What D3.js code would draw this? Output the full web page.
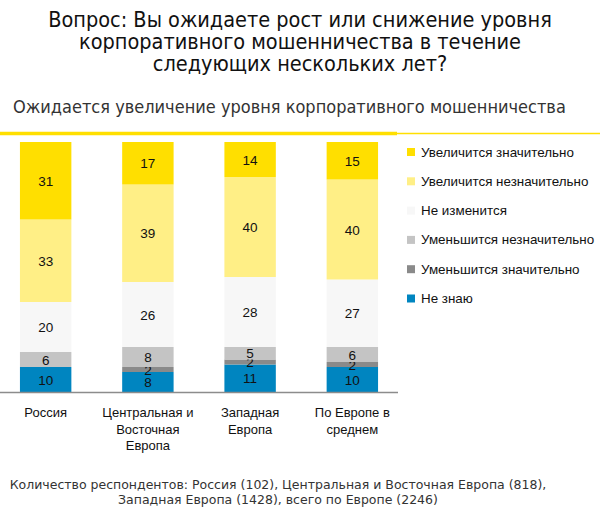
<!DOCTYPE html>
<html>
<head>
<meta charset="utf-8">
<script src="https://cdn.jsdelivr.net/npm/d3@7"></script>
<style>
body{margin:0;background:#fff;}
svg{display:block;}
</style>
</head>
<body>
<div id="chart"></div>
<script>
// categories and answers (bottom to top)
let categories=["Россия","Центральная и Восточная Европа","Западная Европа","По Европе в среднем"];
let categoryLines=[["Россия"],["Центральная и","Восточная","Европа"],["Западная","Европа"],["По Европе в","среднем"]];
let answers=["Не знаю","Уменьшится значительно","Уменьшится незначительно","Не изменится","Увеличится незначительно","Увеличится значительно"];
let dontKnow=[10,8,11,10];
let decreaseMuch=[0,2,2,2];
let decreaseLittle=[6,8,5,6];
let noChange=[20,26,28,27];
let increaseLittle=[33,39,40,40];
let increaseMuch=[31,17,14,15];
let colors=["#0085c0","#8a8a8a","#c4c4c4","#f7f7f7","#ffef86","#ffdf00"];
let legendOrder=["Увеличится значительно","Увеличится незначительно","Не изменится","Уменьшится незначительно","Уменьшится значительно","Не знаю"];

let width=600;
let height=509;

let rows=categories.map(function(c,i){
    return {cat:c,
        "Не знаю":dontKnow[i],
        "Уменьшится значительно":decreaseMuch[i],
        "Уменьшится незначительно":decreaseLittle[i],
        "Не изменится":noChange[i],
        "Увеличится незначительно":increaseLittle[i],
        "Увеличится значительно":increaseMuch[i]};
});

let chart=d3.select("#chart").append("svg")
.attr("width",width).attr("height",height);

// title
let title=["Вопрос: Вы ожидаете рост или снижение уровня","корпоративного мошенничества в течение","следующих нескольких лет?"];
chart.append("g").selectAll("text").data(title).enter().append("text")
.attr("x",300).attr("y",(d,i)=>27+i*22)
.attr("text-anchor","middle")
.attr("font-family","DejaVu Sans Condensed, Tahoma, sans-serif")
.attr("font-size",21.5).attr("fill","#111")
.text(d=>d);

chart.append("text").text("Ожидается увеличение уровня корпоративного мошенничества")
.attr("x",13).attr("y",113)
.attr("font-family","DejaVu Sans Condensed, Tahoma, sans-serif")
.attr("font-size",18).attr("fill","#333");

// yellow rule
chart.append("line").attr("x1",0).attr("x2",600).attr("y1",133.5).attr("y2",133.5)
.attr("stroke","#ffdf00").attr("stroke-width",1.5);
chart.append("line").attr("x1",0).attr("x2",397).attr("y1",133.5).attr("y2",133.5)
.attr("stroke","#ffdf00").attr("stroke-width",3.5);

let x=d3.scaleBand().domain(categories).range([-0.5,398.5]).paddingInner(0.497).paddingOuter(0.2);
let y=d3.scaleLinear().domain([0,100]).range([392,142]);
let color=d3.scaleOrdinal().domain(answers).range(colors);

let stack=d3.stack().keys(answers);
let series=stack(rows);

let layers=chart.append("g").selectAll("g").data(series).enter().append("g")
.attr("fill",d=>color(d.key));

layers.selectAll("rect").data(d=>d).enter().append("rect")
.attr("x",d=>x(d.data.cat))
.attr("width",x.bandwidth())
.attr("y",d=>y(d[1]))
.attr("height",d=>y(d[0])-y(d[1]));

layers.selectAll("text").data(d=>d.filter(v=>v[1]-v[0]>0)).enter().append("text")
.attr("x",d=>x(d.data.cat)+x.bandwidth()/2)
.attr("y",d=>(y(d[0])+y(d[1]))/2+5)
.attr("text-anchor","middle")
.attr("font-family","Liberation Sans, Arial, sans-serif")
.attr("font-size",13.5).attr("fill","#111")
.text(d=>d[1]-d[0]);

// baseline
chart.append("line").attr("x1",0).attr("x2",398).attr("y1",392.5).attr("y2",392.5)
.attr("stroke","#8c8c8c").attr("stroke-width",1.5);

// category labels
let catLabels=chart.append("g").selectAll("text").data(categories).enter().append("text")
.attr("x",d=>x(d)+x.bandwidth()/2)
.attr("y",417)
.attr("text-anchor","middle")
.attr("font-family","Liberation Sans, Arial, sans-serif")
.attr("font-size",13).attr("fill","#111");
catLabels.each(function(d,i){
    d3.select(this).selectAll("tspan").data(categoryLines[i]).enter().append("tspan")
    .attr("x",x(d)+x.bandwidth()/2)
    .attr("dy",(t,j)=>j===0?0:16.5)
    .text(t=>t);
});

// legend
let legend=chart.append("g").selectAll("g").data(legendOrder).enter().append("g")
.attr("transform",(d,i)=>"translate(407,"+(148+i*29.3)+")");
legend.append("rect").attr("width",8).attr("height",8).attr("fill",d=>color(d));
legend.append("text").attr("x",14).attr("y",8.5)
.attr("font-family","Liberation Sans, Arial, sans-serif")
.attr("font-size",13.4).attr("fill","#111")
.text(d=>d);

// footnote
let note=["Количество респондентов: Россия (102), Центральная и Восточная Европа (818),","Западная Европа (1428), всего по Европе (2246)"];
chart.append("g").selectAll("text").data(note).enter().append("text")
.attr("x",278).attr("y",(d,i)=>489+i*15)
.attr("text-anchor","middle")
.attr("font-family","DejaVu Sans, Verdana, sans-serif")
.attr("font-size",12.5).attr("fill","#333")
.text(d=>d);
</script>
</body>
</html>
